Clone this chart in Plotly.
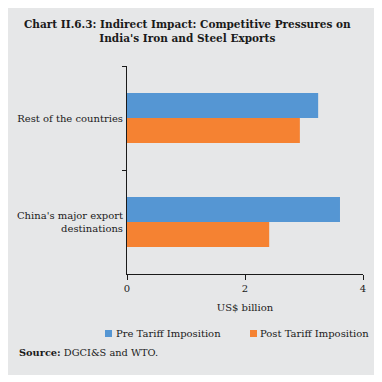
import plotly.graph_objects as go

categories = ["Rest of the countries", "China's major export<br>destinations"]
pre_tariff = [3.24, 3.61]
post_tariff = [2.93, 2.41]
series_names = ["Pre Tariff Imposition", "Post Tariff Imposition"]
series_colors = ["#5596d3", "#f58232"]
x_ticks = [0, 2, 4]

BG = "#e6e7e8"
FONT = "DejaVu Serif"
TXT = "#1a1a1a"

fig = go.Figure()
fig.add_trace(go.Bar(y=categories, x=pre_tariff, orientation="h", name=series_names[0],
                     marker=dict(color=series_colors[0], line=dict(width=0))))
fig.add_trace(go.Bar(y=categories, x=post_tariff, orientation="h", name=series_names[1],
                     marker=dict(color=series_colors[1], line=dict(width=0))))

OFF = 8  # page body margin
W, H = 382 - OFF, 382 - OFF
# plot area in page pixels: x 127..363, y 66..274
L = 127 - OFF
R = W - (363 - OFF)
T = 66 - OFF
B = H - (274 - OFF)
pw, ph = W - L - R, H - T - B

def px_x(p):
    return (p - OFF - L) / pw

def px_y(p):
    return (H - B - (p - OFF)) / ph

fig.add_shape(type="rect", xref="paper", yref="paper",
              x0=px_x(0), x1=px_x(377), y0=px_y(375), y1=px_y(0),
              fillcolor=BG, line=dict(width=0), layer="below")

fig.add_annotation(xref="paper", yref="paper", x=px_x(187), y=px_y(31),
                   text="<b>Chart II.6.3: Indirect Impact: Competitive Pressures on<br>India's Iron and Steel Exports</b>",
                   showarrow=False, font=dict(family=FONT, size=10.5, color=TXT),
                   xanchor="center", yanchor="middle", align="center")
fig.add_annotation(xref="paper", yref="paper", x=px_x(17), y=px_y(352),
                   text="<b>Source:</b> DGCI&S and WTO.",
                   showarrow=False, font=dict(family=FONT, size=9.8, color=TXT),
                   xanchor="left", yanchor="middle", align="left")

# manual legend
legend_items = [(105, 114), (250, 258)]
for (sx, tx), name, col in zip(legend_items, series_names, series_colors):
    fig.add_shape(type="rect", xref="paper", yref="paper",
                  x0=px_x(sx), x1=px_x(sx + 7), y0=px_y(337), y1=px_y(330),
                  fillcolor=col, line=dict(width=0))
    fig.add_annotation(xref="paper", yref="paper", x=px_x(tx), y=px_y(333.5),
                       text=name, showarrow=False, font=dict(family=FONT, size=10, color=TXT),
                       xanchor="left", yanchor="middle")

fig.update_layout(
    width=W, height=H,
    margin=dict(l=L, r=R, t=T, b=B, pad=0, autoexpand=False),
    paper_bgcolor="white",
    plot_bgcolor="rgba(0,0,0,0)",
    barmode="group",
    bargap=0.52,
    bargroupgap=0,
    font=dict(family=FONT, size=10, color=TXT),
    showlegend=False,
)
fig.update_xaxes(range=[0, 4], tickvals=x_ticks, showgrid=False, zeroline=False,
                 showline=True, linecolor=TXT, linewidth=1,
                 ticks="outside", ticklen=5, tickcolor=TXT,
                 tickfont=dict(size=10),
                 title=dict(text="US$ billion", font=dict(family=FONT, size=10), standoff=10),
                 fixedrange=True, automargin=False)
fig.update_yaxes(autorange="reversed", showgrid=False, zeroline=False,
                 showline=True, linecolor=TXT, linewidth=1,
                 ticks="outside", ticklen=4, tickcolor=TXT, tickson="boundaries",
                 tickfont=dict(size=10),
                 ticklabelstandoff=1, fixedrange=True, automargin=False)

fig.write_html("out.html")
